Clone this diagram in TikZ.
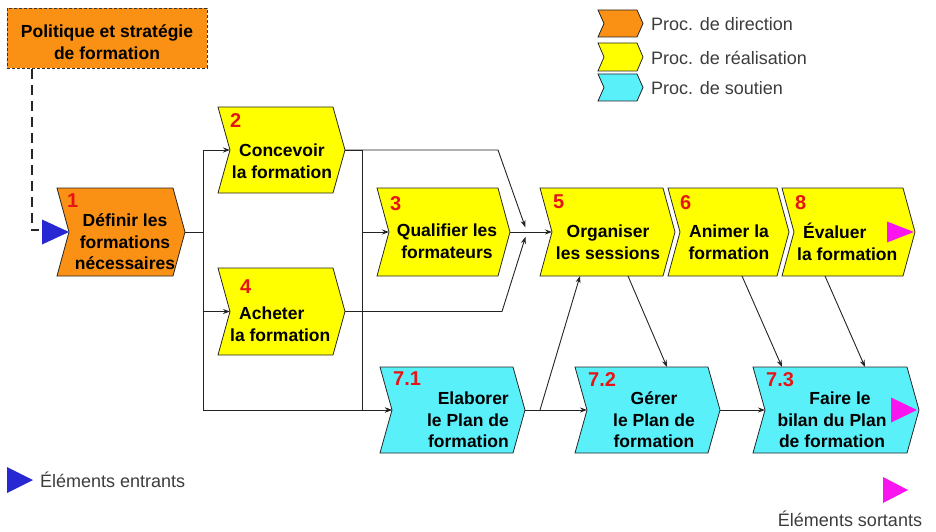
\documentclass[tikz,border=0pt]{standalone}
\usepackage{fontspec}
\setmainfont{Liberation Sans}
\usetikzlibrary{arrows.meta,calc}

\definecolor{dirorange}{RGB}{250,145,20}
\definecolor{realyellow}{RGB}{255,255,0}
\definecolor{supcyan}{RGB}{90,240,250}
\definecolor{numred}{RGB}{230,20,20}
\definecolor{inblue}{RGB}{40,40,210}
\definecolor{outmagenta}{RGB}{250,20,240}
\definecolor{linegrey}{RGB}{35,35,35}
\definecolor{legendgrey}{RGB}{60,60,60}

% process chevron: name, left x, top y, body width, height, fill, notch depth
\newcommand\procbox[7]{%
  \node[boxcore, minimum width=#4pt, minimum height=#5pt, anchor=north west] (#1) at (#2,#3) {};
  \filldraw[boxline, fill=#6] (#1.north west) -- (#1.north east) -- ([xshift=#7pt]#1.east)
    -- (#1.south east) -- (#1.south west) -- ([xshift=#7pt]#1.west) -- cycle;
  \coordinate (#1-in) at ([xshift=#7pt]#1.west);
  \coordinate (#1-out) at ([xshift=#7pt]#1.east);
}

\tikzset{
  boxcore/.style={inner sep=0pt, outer sep=0pt, draw=none},
  boxline/.style={draw=black!85, line width=0.8pt},
  num/.style={text=numred, font=\fontsize{20}{20}\selectfont\bfseries, inner sep=0pt, anchor=north west},
  boxtext/.style={font=\fontsize{17.5}{21.5}\selectfont\bfseries, text=black, inner sep=0pt},
  legtext/.style={font=\fontsize{18}{20}\selectfont, text=legendgrey, inner sep=0pt},
  conn/.style={draw=linegrey, line width=0.9pt},
  arr/.style={conn, -{Stealth[length=7pt,width=5pt]}},
  dashline/.style={draw=black!85, line width=2.4pt, dash pattern=on 10pt off 6pt},
}

\begin{document}
\begin{tikzpicture}[x=1pt, y=-1pt]
\useasboundingbox (0,0) rectangle (936,532);

% strategy box
\node[draw=black!80, line width=0.8pt, dash pattern=on 3pt off 2pt, fill=dirorange,
      minimum width=200pt, minimum height=60pt, inner sep=0pt, anchor=north west] (pol) at (7,8) {};
\node[boxtext, align=center] (poltext) at (107,42) {Politique et stratégie\\de formation};

% process chevrons
\procbox{b1}{57}{188}{116}{88}{dirorange}{12}
\procbox{b2}{218}{107}{115}{86}{realyellow}{12}
\procbox{b4}{218}{268}{115}{87}{realyellow}{12}
\procbox{b3}{377}{188}{121}{88}{realyellow}{12}
\procbox{b5}{540}{188}{123}{88}{realyellow}{12}
\procbox{b6}{668}{188}{109}{88}{realyellow}{12}
\procbox{b8}{782}{188}{121}{88}{realyellow}{12}
\procbox{b71}{380}{367}{133}{86}{supcyan}{12}
\procbox{b72}{575}{367}{133}{86}{supcyan}{12}
\procbox{b73}{753}{367}{154}{86}{supcyan}{12}

% numbers
\node[num] (n1) at (67,194) {1};
\node[num] (n2) at (230,113) {2};
\node[num] (n3) at (390,196) {3};
\node[num] (n4) at (240,280) {4};
\node[num] (n5) at (553,195) {5};
\node[num] (n6) at (680,195) {6};
\node[num] (n8) at (795,195) {8};
\node[num] (n71) at (393,372) {7.1};
\node[num] (n72) at (588,372) {7.2};
\node[num] (n73) at (766,372) {7.3};

% texts
\node[boxtext, align=center] (t1) at (125,242) {Définir les\\formations\\nécessaires};
\node[boxtext, align=center] (t2) at (282,161) {Concevoir\\la formation};
\node[boxtext, align=center] (t3) at (447,241) {Qualifier les\\formateurs};
\node[boxtext, align=left, anchor=west] (t4) at (230,324) {\hspace*{9pt}Acheter\\la formation};
\node[boxtext, align=center] (t5) at (608,242) {Organiser\\les sessions};
\node[boxtext, align=center] (t6) at (729,242) {Animer la\\formation};
\node[boxtext, align=left, anchor=west] (t8) at (797,242) {\hspace*{6pt}Évaluer\\la formation};
\node[boxtext, align=right, anchor=east] (t71) at (509,420) {Elaborer\\le Plan de\\formation};
\node[boxtext, align=center] (t72) at (654,420) {Gérer\\le Plan de\\formation};
\node[boxtext, align=center] (t73) at (832,420) {\hspace*{16pt}Faire le\\bilan du Plan\\de formation};

% incoming / outgoing markers
\fill[inblue] (b1-in) -- ++(-27,-12.5) -- ++(0,25) -- cycle;
\fill[outmagenta] ([xshift=-1pt]b8-out) -- ++(-27,-10.5) -- ++(0,21) -- cycle;
\fill[outmagenta] ([xshift=-2pt]b73-out) -- ++(-26,-12.5) -- ++(0,25) -- cycle;

% strategy link
\draw[dashline] ($(pol.south west)+(25,0)$) |- ($(b1-in)+(-30,-2)$);

% flows from 1
\draw[arr] (b1-out) -- ++(18,0) |- (b2-in);
\draw[arr] (b1-out) -- ++(18,0) |- (b4-in);
\draw[arr] (b1-out) -- ++(18,0) |- (b71-in);

% flows from 2
\draw[arr] (b2-out) -- ++(17,0) |- (b3-in);
\draw[arr] (b2-out) -- ++(17,0) |- (b71-in);
\coordinate (merge) at ($(b3-out)+(17,0)$);
\draw[arr, shorten >=5pt] (b2-out) -- ($(merge |- b2-out)+(-29,0)$) -- (merge);
\draw[arr, shorten >=5pt] (b4-out) -- ($(merge |- b4-out)+(-25,0)$) -- (merge);
\draw[arr] (b3-out) -- (b5-in);

% support chain
\draw[arr] (b71-out) -- (b72-in);
\draw[arr] (b72-out) -- (b73-in);
\draw[arr] ($(b71-out)+(15,0)$) -- ($(b5.south west)+(40,0)$);
\draw[arr] ($(b5.south west)+(88,0)$) -- ($(b72.north west)+(92,0)$);
\draw[arr] ($(b6.south west)+(74,0)$) -- ($(b73.north west)+(29,0)$);
\draw[arr] ($(b8.south west)+(43,0)$) -- ($(b73.north west)+(112,0)$);

% legend
\procbox{legdir}{598}{10}{39}{27}{dirorange}{6}
\procbox{legreal}{598}{43}{39}{28}{realyellow}{6}
\procbox{legsup}{598}{74}{39}{27}{supcyan}{6}
\node[legtext, anchor=west] (ldir) at (651,24) {Proc. de direction};
\node[legtext, anchor=west] (lreal) at (651,58) {Proc. de réalisation};
\node[legtext, anchor=west] (lsup) at (651,88) {Proc. de soutien};

\coordinate (inleg) at (33,480);
\fill[inblue] (inleg) -- ++(-26,-13) -- ++(0,26) -- cycle;
\node[legtext, anchor=west] (lin) at (40,480) {Éléments entrants};
\coordinate (outleg) at (908,490);
\fill[outmagenta] (outleg) -- ++(-25,-13) -- ++(0,26) -- cycle;
\node[legtext] (lout) at (850,519) {Éléments sortants};
\end{tikzpicture}
\end{document}
